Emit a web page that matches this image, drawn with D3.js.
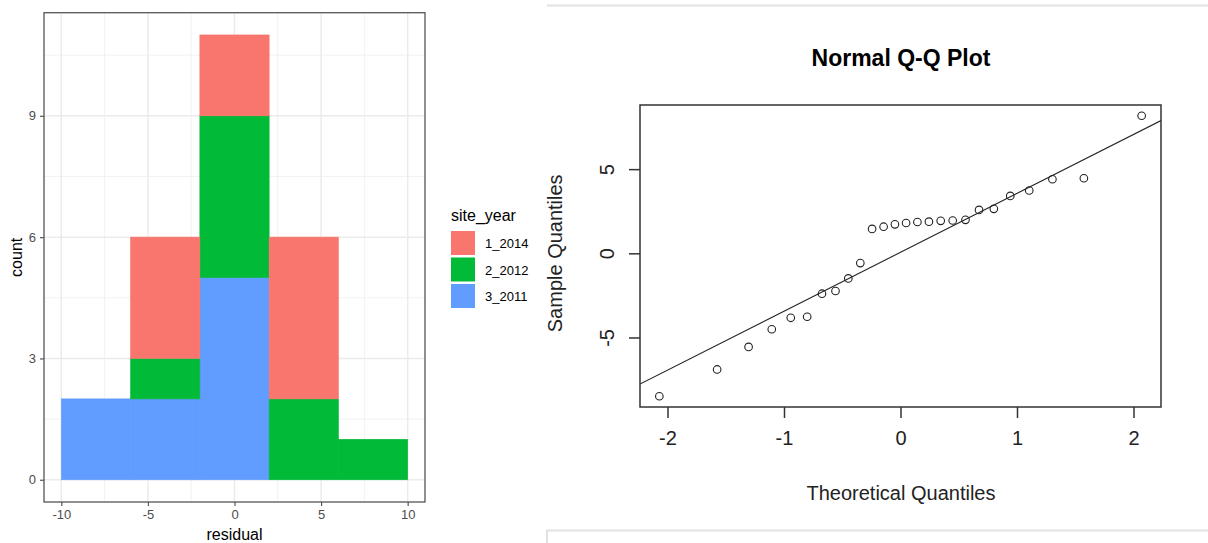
<!DOCTYPE html>
<html>
<head>
<meta charset="utf-8">
<script src="https://cdnjs.cloudflare.com/ajax/libs/d3/7.8.5/d3.min.js"></script>
<style>
  body { margin: 0; background: #fff; }
  svg { display: block; font-family: "Liberation Sans", Arial, sans-serif; }
</style>
</head>
<body>
<div id="chart"></div>
<script>
// histogram data (residual bins, stacked by site_year)
var binEdges = [-10, -6, -2, 2, 6, 10];
var siteYears = ["1_2014", "2_2012", "3_2011"];
var count2014 = [0, 3, 2, 4, 0];
var count2012 = [0, 1, 4, 2, 1];
var count2011 = [2, 2, 5, 0, 0];
var histXTicks = [-10, -5, 0, 5, 10];
var histYTicks = [0, 3, 6, 9];

// Q-Q plot data
var theoretical = [-2.07, -1.574, -1.304, -1.105, -0.942, -0.801, -0.674, -0.558, -0.448, -0.345,
  -0.244, -0.145, -0.048, 0.048, 0.145, 0.244, 0.345, 0.448, 0.558, 0.674,
  0.801, 0.942, 1.105, 1.304, 1.574, 2.07];
var sample = [-8.49, -6.90, -5.56, -4.51, -3.83, -3.77, -2.40, -2.24, -1.49, -0.58,
  1.45, 1.58, 1.72, 1.80, 1.86, 1.88, 1.93, 1.95, 1.99, 2.58,
  2.64, 3.41, 3.73, 4.40, 4.46, 8.17];
var qqIntercept = 0.06;
var qqSlope = 3.5;
var qqXTicks = [-2, -1, 0, 1, 2];
var qqYTicks = [-5, 0, 5];

var colors = { "1_2014": "#F8766D", "2_2012": "#00BA38", "3_2011": "#619CFF" };

// plain hyphen labels like R
var plain = d => String(d);

var svg = d3.select("#chart").append("svg")
  .attr("width", 1208)
  .attr("height", 543);

// ---------- left: stacked histogram ----------
var hx = d3.scaleLinear().domain([-11, 11]).range([44, 425]);
var hy = d3.scaleLinear().domain([-0.55, 11.55]).range([502, 12.7]);

var left = svg.append("g");

// grid lines
var minorX = [-7.5, -2.5, 2.5, 7.5];
var minorY = [1.5, 4.5, 7.5, 10.5];
left.selectAll(".minx").data(minorX).enter().append("line")
  .attr("x1", d => hx(d)).attr("x2", d => hx(d))
  .attr("y1", hy.range()[0]).attr("y2", hy.range()[1])
  .attr("stroke", "#f2f2f2").attr("stroke-width", 1);
left.selectAll(".miny").data(minorY).enter().append("line")
  .attr("y1", d => hy(d)).attr("y2", d => hy(d))
  .attr("x1", hx.range()[0]).attr("x2", hx.range()[1])
  .attr("stroke", "#f2f2f2").attr("stroke-width", 1);
left.selectAll(".majx").data(histXTicks).enter().append("line")
  .attr("x1", d => hx(d)).attr("x2", d => hx(d))
  .attr("y1", hy.range()[0]).attr("y2", hy.range()[1])
  .attr("stroke", "#ebebeb").attr("stroke-width", 1.5);
left.selectAll(".majy").data(histYTicks).enter().append("line")
  .attr("y1", d => hy(d)).attr("y2", d => hy(d))
  .attr("x1", hx.range()[0]).attr("x2", hx.range()[1])
  .attr("stroke", "#ebebeb").attr("stroke-width", 1.5);

// stacked bars
var bins = count2014.map(function(d, i) {
  return { x0: binEdges[i], x1: binEdges[i + 1],
    "1_2014": count2014[i], "2_2012": count2012[i], "3_2011": count2011[i] };
});
var stack = d3.stack().keys(["3_2011", "2_2012", "1_2014"]);
var layers = stack(bins);

left.selectAll(".layer").data(layers).enter().append("g")
  .attr("fill", d => colors[d.key])
  .attr("stroke", d => colors[d.key])
  .attr("stroke-width", 0.6)
  .selectAll("rect").data(d => d.filter(s => s[1] > s[0])).enter().append("rect")
  .attr("x", d => hx(d.data.x0))
  .attr("width", d => hx(d.data.x1) - hx(d.data.x0))
  .attr("y", d => hy(d[1]))
  .attr("height", d => hy(d[0]) - hy(d[1]));

// panel border
left.append("rect")
  .attr("x", hx.range()[0]).attr("y", hy.range()[1])
  .attr("width", hx.range()[1] - hx.range()[0])
  .attr("height", hy.range()[0] - hy.range()[1])
  .attr("fill", "none").attr("stroke", "#555").attr("stroke-width", 1.3);

// axes
var hxAxis = left.append("g")
  .attr("transform", `translate(0, ${hy.range()[0]})`)
  .call(d3.axisBottom(hx).tickValues(histXTicks).tickFormat(plain).tickSize(4).tickPadding(4));
var hyAxis = left.append("g")
  .attr("transform", `translate(${hx.range()[0]}, 0)`)
  .call(d3.axisLeft(hy).tickValues(histYTicks).tickFormat(plain).tickSize(4).tickPadding(4));
[hxAxis, hyAxis].forEach(function(a) {
  a.select(".domain").remove();
  a.selectAll("line").attr("stroke", "#555").attr("stroke-width", 1.2);
  a.selectAll("text").attr("fill", "#4d4d4d").style("font-size", "13px")
    .style("font-family", "Liberation Sans, Arial, sans-serif");
});

left.append("text")
  .attr("x", hx(0)).attr("y", 540)
  .attr("text-anchor", "middle")
  .style("font-size", "16px")
  .text("residual");
left.append("text")
  .attr("transform", `translate(22, ${hy(5.5)}) rotate(-90)`)
  .attr("text-anchor", "middle")
  .style("font-size", "16px")
  .text("count");

// legend
var legend = svg.append("g").attr("transform", "translate(451, 0)");
legend.append("text")
  .attr("x", 0).attr("y", 221)
  .style("font-size", "16px")
  .text("site_year");
var keys = legend.selectAll(".key").data(siteYears).enter().append("g")
  .attr("transform", (d, i) => `translate(0, ${231 + i * 26.5})`);
keys.append("rect")
  .attr("width", 24).attr("height", 24)
  .attr("fill", d => colors[d]);
keys.append("text")
  .attr("x", 34).attr("y", 17)
  .style("font-size", "13px")
  .text(d => d);

// ---------- right: normal Q-Q plot ----------
var qx = d3.scaleLinear().domain([-2.236, 2.236]).range([640, 1161]);
var qy = d3.scaleLinear().domain([-9.13, 8.81]).range([407, 105]);

var right = svg.append("g");

// frame lines around the right-hand image
right.append("line")
  .attr("x1", 547).attr("x2", 1208).attr("y1", 5.5).attr("y2", 5.5)
  .attr("stroke", "#e2e2e2").attr("stroke-width", 2);
right.append("path")
  .attr("d", "M547,543 V530.5 H1208")
  .attr("fill", "none").attr("stroke", "#e2e2e2").attr("stroke-width", 2);

right.append("text")
  .attr("x", 901).attr("y", 66)
  .attr("text-anchor", "middle")
  .style("font-size", "23px").style("font-weight", "bold")
  .text("Normal Q-Q Plot");

right.append("clipPath").attr("id", "qqclip")
  .append("rect")
  .attr("x", qx.range()[0]).attr("y", qy.range()[1])
  .attr("width", qx.range()[1] - qx.range()[0])
  .attr("height", qy.range()[0] - qy.range()[1]);

// reference line
var lineData = qx.domain().map(t => [t, qqIntercept + qqSlope * t]);
right.append("path")
  .datum(lineData)
  .attr("clip-path", "url(#qqclip)")
  .attr("d", d3.line().x(d => qx(d[0])).y(d => qy(d[1])))
  .attr("fill", "none").attr("stroke", "#222").attr("stroke-width", 1.1);

// points
right.selectAll("circle").data(theoretical).enter().append("circle")
  .attr("cx", d => qx(d))
  .attr("cy", (d, i) => qy(sample[i]))
  .attr("r", 3.8)
  .attr("fill", "none").attr("stroke", "#222").attr("stroke-width", 1.1);

// box
right.append("rect")
  .attr("x", qx.range()[0]).attr("y", qy.range()[1])
  .attr("width", qx.range()[1] - qx.range()[0])
  .attr("height", qy.range()[0] - qy.range()[1])
  .attr("fill", "none").attr("stroke", "#333").attr("stroke-width", 1.5);

var qxAxis = right.append("g")
  .attr("transform", `translate(0, ${qy.range()[0]})`)
  .call(d3.axisBottom(qx).tickValues(qqXTicks).tickFormat(plain).tickSize(11).tickPadding(13));
var qyAxis = right.append("g")
  .attr("transform", `translate(${qx.range()[0]}, 0)`)
  .call(d3.axisLeft(qy).tickValues(qqYTicks).tickFormat(plain).tickSize(11).tickPadding(0));
[qxAxis, qyAxis].forEach(function(a) {
  a.select(".domain").remove();
  a.selectAll("line").attr("stroke", "#333").attr("stroke-width", 1.5);
  a.selectAll("text").attr("fill", "#222").style("font-size", "20px")
    .style("font-family", "Liberation Sans, Arial, sans-serif");
});
// R draws y tick labels parallel to the axis
qyAxis.selectAll("text")
  .attr("x", null).attr("dy", null)
  .attr("text-anchor", "middle")
  .attr("transform", "translate(-33, 0) rotate(-90) translate(0, 7)");

right.append("text")
  .attr("x", 901).attr("y", 500)
  .attr("text-anchor", "middle")
  .style("font-size", "20px").attr("fill", "#222")
  .text("Theoretical Quantiles");
right.append("text")
  .attr("transform", `translate(562, ${qy(0)}) rotate(-90)`)
  .attr("text-anchor", "middle")
  .style("font-size", "20px").attr("fill", "#222")
  .text("Sample Quantiles");
</script>
</body>
</html>
